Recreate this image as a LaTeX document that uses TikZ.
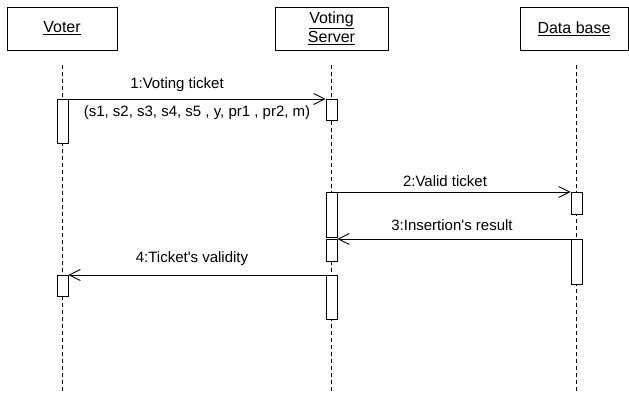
\documentclass[tikz,border=0pt]{standalone}
\usepackage{fontspec}
\setmainfont{Liberation Sans}
\usepackage{tikz}
\usetikzlibrary{shapes,arrows,arrows.meta}
\tikzstyle{actor} = [rectangle, draw, line width=0.9pt, fill=white, minimum height=43pt, inner sep=0pt, align=center, font=\fontsize{16}{19.5}\selectfont]
\tikzstyle{activation} = [rectangle, draw, line width=0.9pt, fill=white, minimum width=11pt, inner sep=0pt, anchor=north]
\tikzstyle{life} = [draw, line width=0.9pt, dash pattern=on 4pt off 3pt]
\tikzstyle{line} = [draw, line width=0.9pt, -{Straight Barb[length=11pt,width=11pt]}]
\tikzstyle{msgtext} = [inner sep=0pt, font=\fontsize{15}{18}\selectfont]

\begin{document}
\begin{tikzpicture}[x=1pt, y=-1pt]
\useasboundingbox (0,0) rectangle (629,393);
% objects
\node [actor, minimum width=110pt] (voter) at (62,28.5) {\underline{Voter}};
\node [actor, minimum width=113pt] (server) at (331.5,28.5) {\underline{Voting}\\\underline{Server}};
\node [actor, minimum width=108pt] (db) at (574,28.5) {\underline{Data base}};
% lifelines
\coordinate (voter-top) at (62.5,65);
\coordinate (voter-end) at (62.5,393);
\coordinate (server-top) at (331.5,65);
\coordinate (server-end) at (331.5,393);
\coordinate (db-top) at (576.5,65);
\coordinate (db-end) at (576.5,393);
\path [life] (voter-top) -- (voter-end);
\path [life] (server-top) -- (server-end);
\path [life] (db-top) -- (db-end);
% activations
\node [activation, minimum height=44pt] (voter-a1) at (62.5,99) {};
\node [activation, minimum height=21pt] (server-a1) at (331.5,99) {};
\node [activation, minimum height=45pt] (server-a2) at (331.5,192) {};
\node [activation, minimum height=22pt] (db-a1) at (576.5,192) {};
\node [activation, minimum height=45pt] (db-a2) at (576.5,239) {};
\node [activation, minimum height=22pt] (server-a3) at (331.5,239) {};
\node [activation, minimum height=44pt] (server-a4) at (331.5,275) {};
\node [activation, minimum height=21pt] (voter-a2) at (62.5,275) {};
% messages
\path [line] (voter-a1.north east) -- (server-a1.north west);
\path [line] (server-a2.north east) -- (db-a1.north west);
\path [line] (db-a2.north west) -- (server-a3.north east);
\path [line] (server-a4.north west) -- (voter-a2.north east);
\node [msgtext] (m1) at (177,85) {1:Voting ticket};
\node [msgtext] (m1-args) at (197,113) {(s1, s2, s3, s4, s5 , y, pr1 , pr2, m)};
\node [msgtext] (m2) at (445,181) {2:Valid ticket};
\node [msgtext] (m3) at (452,225) {3:Insertion\textquotesingle s result};
\node [msgtext] (m4) at (192,259) {4:Ticket\textquotesingle s validity};
\end{tikzpicture}
\end{document}
